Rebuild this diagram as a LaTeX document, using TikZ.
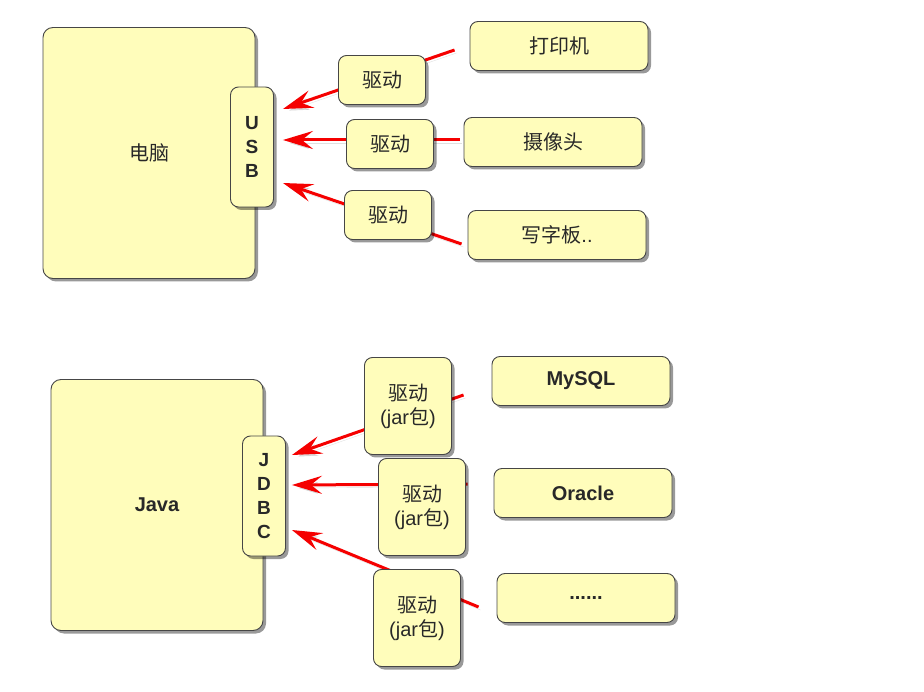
\documentclass[tikz,border=0pt]{standalone}
\usepackage{fontspec}
\setmainfont{Liberation Sans}
\newfontfamily\cjk{Noto Sans CJK SC}
\usetikzlibrary{arrows.meta,shapes,positioning,shadows,calc}
\definecolor{notefill}{RGB}{255,253,187}
\definecolor{noteline}{RGB}{70,70,70}
\definecolor{notetext}{RGB}{40,40,40}
\definecolor{wirered}{RGB}{245,0,0}
\tikzset{
  basic/.style  = {draw=noteline, fill=notefill, text=notetext, line width=0.9pt,
                   rounded corners=8pt, align=center, inner sep=0pt,
                   drop shadow={shadow xshift=3pt, shadow yshift=-3pt,
                                fill=black, opacity=0.4},
                   font=\fontsize{20}{24}\selectfont},
  host/.style   = {basic, rounded corners=10pt, minimum width=212pt,
                   minimum height=251pt},
  port/.style   = {basic, minimum width=43pt, minimum height=120pt,
                   font=\fontsize{19}{24}\selectfont\bfseries},
  driver/.style = {basic, minimum width=87pt, minimum height=49pt},
  jar/.style    = {driver, minimum height=97pt},
  device/.style = {basic, minimum width=178pt, minimum height=49pt},
  db/.style     = {device, font=\fontsize{20}{24}\selectfont\bfseries},
  wire/.style   = {draw=wirered, line width=3pt,
                   -{Stealth[length=30pt,width=18pt,inset=11pt]},
                   preaction={draw=black, opacity=0.12,
                              transform canvas={shift={(2pt,-3pt)}}}}
}

\begin{document}
\begin{tikzpicture}[x=1pt,y=-1pt]
\useasboundingbox (0,0) rectangle (924,692);

% the computer and its usb port
\node[host] (pc) at (149,153) {\cjk 电脑};
\node[port] (usb) at (252,147) {U\\S\\B};

% devices
\node[device] (prn) at (559,46)  {\cjk 打印机};
\node[device] (cam) at (553,142) {\cjk 摄像头};
\node[device] (pad) at (557,235) {{\cjk 写字板}..};

% java and jdbc
\node[host] (java) at (157,505) {\bfseries Java};
\node[port] (jdbc) at (264,496) {J\\D\\B\\C};

% databases
\node[db] (mysql)  at (581,381) {MySQL};
\node[db] (oracle) at (583,493) {Oracle};
\node[db] (etc)    at (586,598) {......};

% red lines, drawn before the drivers so they pass behind them
\foreach \dev/\dx/\dy/\ey in {prn/-15/4/-38, cam/-4/-2/-7, pad/-6/9/36}
  \draw[wire] ($(\dev.west)+(\dx,\dy)$) -- ($(usb.east)+(9,\ey)$);

\foreach \dev/\dx/\dy/\ey in {mysql/-28/14/-41, oracle/-26/-9/-11, etc/-18/9/34}
  \draw[wire] ($(\dev.west)+(\dx,\dy)$) -- ($(jdbc.east)+(6,\ey)$);

% drivers
\node[driver] (d1) at (382,80)  {\cjk 驱动};
\node[driver] (d2) at (390,144) {\cjk 驱动};
\node[driver] (d3) at (388,215) {\cjk 驱动};

\node[jar] (j1) at (408,406) {{\cjk 驱动}\\(jar{\cjk 包})};
\node[jar] (j2) at (422,507) {{\cjk 驱动}\\(jar{\cjk 包})};
\node[jar] (j3) at (417,618) {{\cjk 驱动}\\(jar{\cjk 包})};

\end{tikzpicture}
\end{document}
